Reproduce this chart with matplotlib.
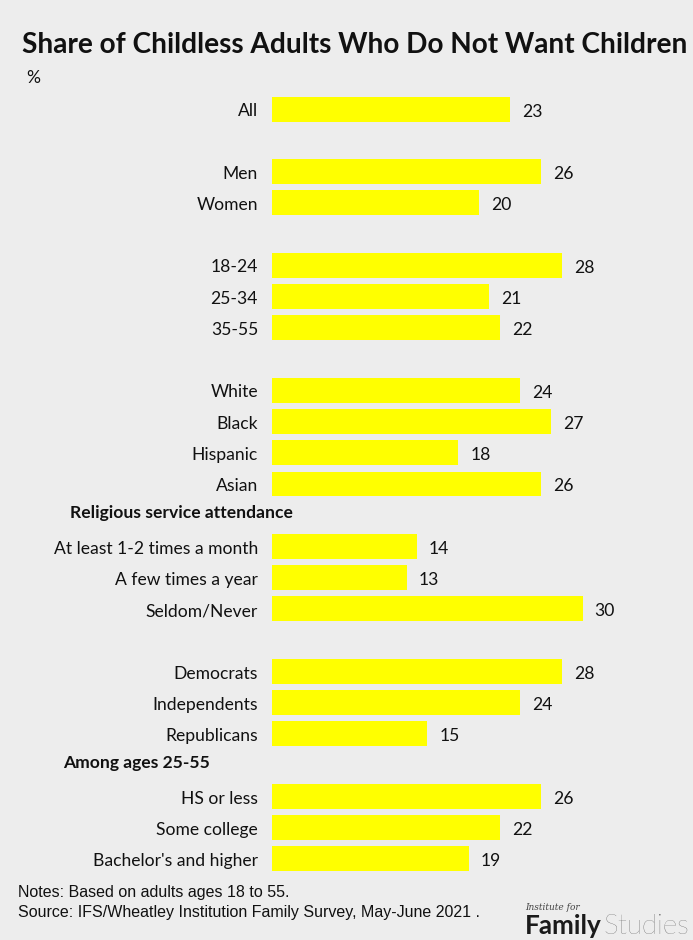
import matplotlib
matplotlib.use("Agg")
import matplotlib.pyplot as plt
from matplotlib import font_manager
from matplotlib.transforms import blended_transform_factory, offset_copy

names = {f.name for f in font_manager.fontManager.ttflist}
main_font = "Lato" if "Lato" in names else "DejaVu Sans"
note_font = "Liberation Sans"

# ---- data ----
categories = ["All", "", "Men", "Women", "", "18-24", "25-34", "35-55", "",
              "White", "Black", "Hispanic", "Asian",
              "Religious service attendance",
              "At least 1-2 times a month", "A few times a year", "Seldom/Never", "",
              "Democrats", "Independents", "Republicans",
              "Among ages 25-55",
              "HS or less", "Some college", "Bachelor's and higher"]
values = [23, None, 26, 20, None, 28, 21, 22, None,
          24, 27, 18, 26,
          None,
          14, 13, 30, None,
          28, 24, 15,
          None,
          26, 22, 19]
headers = ["Religious service attendance", "Among ages 25-55"]

title = "Share of Childless Adults Who Do Not Want Children"
unit = "%"
notes = ["Notes: Based on adults ages 18 to 55.",
         "Source: IFS/Wheatley Institution Family Survey, May-June 2021 ."]

BG = "#ededed"
BAR = "#ffff00"
TXT = "#111111"

W, H = 693, 940
fig = plt.figure(figsize=(W / 100, H / 100), dpi=100, facecolor=BG)

top_px, bot_px = 93.4, 874.6
ax = fig.add_axes([272 / W, 1 - bot_px / H, 414 / W, (bot_px - top_px) / H])
ax.set_facecolor(BG)
ax.set_xlim(0, 40)
ax.set_ylim(len(categories) - 0.5, -0.5)
ax.axis("off")

ypos = list(range(len(categories)))
bar_y = [y for y, v in zip(ypos, values) if v is not None]
bar_v = [v for v in values if v is not None]
ax.barh(bar_y, bar_v, height=0.8, color=BAR, edgecolor="none")

header_x = {"Religious service attendance": 70, "Among ages 25-55": 63}
lab_tr = offset_copy(ax.transData, fig=fig, x=-14, y=0, units="dots")
val_tr = offset_copy(ax.transData, fig=fig, x=12, y=0, units="dots")
hdr_tr = blended_transform_factory(fig.transFigure, ax.transData)
for y, (c, v) in enumerate(zip(categories, values)):
    if c in headers:
        ax.text(header_x[c] / W, y - 0.08, c, transform=hdr_tr, ha="left", va="center",
                fontsize=12.6, fontweight="bold", family=main_font, color=TXT)
    elif c:
        ax.text(0, y + 0.07, c, transform=lab_tr, ha="right", va="center",
                fontsize=12.6, family=main_font, color=TXT)
    if v is not None:
        ax.text(v, y + 0.08, str(v), transform=val_tr, ha="left", va="center",
                fontsize=12.6, family=main_font, color=TXT)

fig.text(22 / W, 1 - 45 / H, title, ha="left", va="center",
         fontsize=20.2, fontweight="bold", family=main_font, color=TXT)
fig.text(26 / W, 1 - 78 / H, unit, ha="left", va="center",
         fontsize=12.6, family=main_font, color=TXT)

fig.text(18 / W, 1 - 893 / H, notes[0], ha="left", va="center",
         fontsize=11.5, family=note_font, color=TXT)
fig.text(18 / W, 1 - 912 / H, notes[1], ha="left", va="center",
         fontsize=11.5, family=note_font, color=TXT)

fig.text(525 / W, 1 - 907 / H, "Institute for", ha="left", va="center",
         fontsize=6.5, style="italic", family="DejaVu Serif", color="#444444")
t1 = fig.text(525 / W, 1 - 926 / H, "Family", ha="left", va="center",
              fontsize=18.8, fontweight="bold", family=main_font, color="#1a1a1a")
fig.canvas.draw()
bb = t1.get_window_extent()
fig.text((bb.x1 + 2) / W, 1 - 926 / H, "Studies", ha="left", va="center",
         fontsize=20, fontweight="light", family=main_font, color="#555555")

fig.savefig("out.png", dpi=100, facecolor=BG)
